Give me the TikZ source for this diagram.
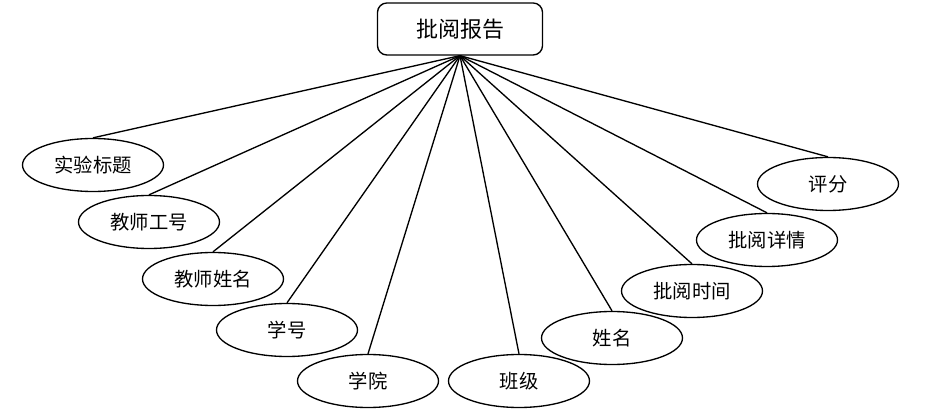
\documentclass[tikz,border=0pt]{standalone}
\usepackage{fontspec}
\usepackage{tikz}
\usetikzlibrary{shapes.geometric}
\newfontfamily\cjk{Noto Sans CJK SC}
\tikzset{
  attr/.style={draw,ellipse,line width=1pt,inner sep=0pt,
    minimum width=105.75pt,minimum height=39.75pt,
    font=\cjk\fontsize{14.5}{17}\selectfont},
  entity/.style={draw,rounded corners=7pt,line width=1pt,
    minimum width=123.75pt,minimum height=39pt,
    font=\cjk\fontsize{16.5}{19}\selectfont}
}

\begin{document}
\begin{tikzpicture}[x=0.75pt,y=-0.75pt,line width=1pt]
\useasboundingbox (0,0) rectangle (932,416);
\node[entity] (report) at (460,29) {批阅报告};
% attributes, left to right
\node[attr] (title) at (93,165) {实验标题};
\node[attr] (tid) at (149,222) {教师工号};
\node[attr] (tname) at (213,279) {教师姓名};
\node[attr] (sid) at (287,330) {学号};
\node[attr] (college) at (368,381) {学院};
\node[attr] (class) at (519,381) {班级};
\node[attr] (sname) at (612,338) {姓名};
\node[attr] (rtime) at (692,291) {批阅时间};
\node[attr] (rdetail) at (767,240) {批阅详情};
\node[attr] (score) at (828,184) {评分};
\foreach \n in {title,tid,tname,sid,college,class,sname,rtime,rdetail,score} {
  \draw (report.south) -- (\n.north);
}
\end{tikzpicture}
\end{document}
